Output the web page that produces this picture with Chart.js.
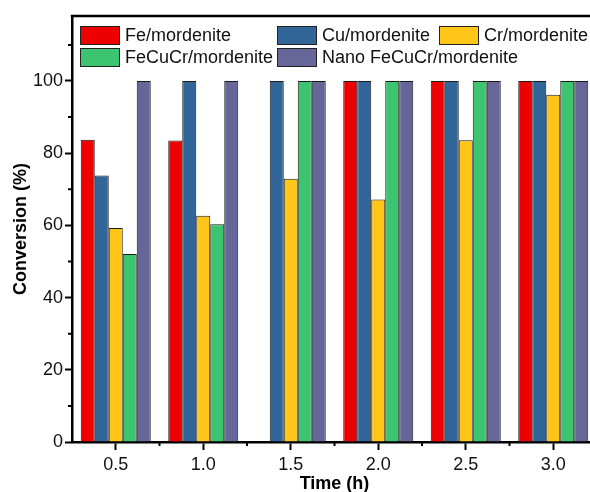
<!DOCTYPE html>
<html>
<head>
<meta charset="utf-8">
<script src="https://cdn.jsdelivr.net/npm/chart.js@4"></script>
<style>
    body { margin: 0; background: #fff; }
    #wrap { width: 590px; height: 492px; overflow: hidden; }
</style>
</head>
<body>
<div id="wrap"><canvas id="convChart" width="600" height="500"></canvas></div>
<script>
        // reaction time (h)
        const times = [0.5, 1.0, 1.5, 2.0, 2.5, 3.0];
        const seriesNames = ["Fe/mordenite", "Cu/mordenite", "Cr/mordenite", "FeCuCr/mordenite", "Nano FeCuCr/mordenite"];
        const seriesColors = ["#ee0000", "#326699", "#ffc519", "#3cc471", "#666699"];

        // conversion (%)
        const feValues = [83.7, 83.5, null, 100, 100, 100];
        const cuValues = [73.8, 100, 100, 100, 100, 100];
        const crValues = [59.3, 62.7, 72.9, 67.2, 83.6, 96.2];
        const feCuCrValues = [52.1, 60.3, 100, 100, 100, 100];
        const nanoValues = [100, 100, 100, 100, 100, 100];

        const yTicks = [0, 20, 40, 60, 80, 100];
        const xMinorTicks = [0.75, 1.25, 1.75, 2.25, 2.75];
        const yMinorTicks = [10, 30, 50, 70, 90, 110];

        const allValues = [feValues, cuValues, crValues, feCuCrValues, nanoValues];
        const font = "'Liberation Sans', Arial, sans-serif";

        // frame on top, minor ticks and the legend inside the plot
        const extrasPlugin = {
            id: 'extras',
            afterDraw(chart) {
                const ctx = chart.ctx;
                const area = chart.chartArea;
                const xs = chart.scales.x;
                const ys = chart.scales.y;
                ctx.save();
                ctx.strokeStyle = '#000';
                ctx.lineWidth = 2.5;
                ctx.beginPath();
                ctx.moveTo(area.left - 1.25, area.top);
                ctx.lineTo(area.right, area.top);
                ctx.lineTo(area.right, area.bottom);
                ctx.stroke();

                ctx.lineWidth = 2;
                ctx.beginPath();
                xMinorTicks.forEach(v => {
                    const px = xs.getPixelForValue(v);
                    ctx.moveTo(px, area.bottom);
                    ctx.lineTo(px, area.bottom + 4);
                });
                yMinorTicks.forEach(v => {
                    const py = ys.getPixelForValue(v);
                    ctx.moveTo(area.left, py);
                    ctx.lineTo(area.left - 4, py);
                });
                ctx.stroke();

                // legend: 3 columns, 2 rows
                const colX = [8, 205, 367];
                const rowY = [10, 32];
                ctx.font = '18px ' + font;
                ctx.textBaseline = 'middle';
                ctx.textAlign = 'left';
                chart.data.datasets.forEach((ds, i) => {
                    const bx = area.left + colX[i % 3];
                    const by = area.top + rowY[Math.floor(i / 3)];
                    ctx.fillStyle = ds.backgroundColor;
                    ctx.fillRect(bx, by, 40, 19);
                    ctx.lineWidth = 1;
                    ctx.strokeStyle = '#222';
                    ctx.strokeRect(bx + 0.5, by + 0.5, 39, 18);
                    ctx.fillStyle = '#111';
                    ctx.fillText(ds.label, bx + 45, by + 10);
                });
                ctx.restore();
            }
        };

        const ctx = document.getElementById('convChart').getContext('2d');
        new Chart(ctx, {
            type: 'bar',
            data: {
                datasets: seriesNames.map((name, i) => ({
                    label: name,
                    data: times.map((t, j) => ({ x: t, y: allValues[i][j] })),
                    backgroundColor: seriesColors[i],
                    borderColor: '#1a1a1a',
                    borderWidth: 1,
                    categoryPercentage: 0.8,
                    barPercentage: 1.0
                }))
            },
            options: {
                responsive: false,
                animation: false,
                devicePixelRatio: 1,
                layout: { padding: { top: 16, right: 3, left: 0, bottom: 0 } },
                plugins: {
                    legend: { display: false },
                    tooltip: { enabled: false }
                },
                scales: {
                    x: {
                        type: 'linear',
                        min: 0.25,
                        max: 3.25,
                        offset: false,
                        afterBuildTicks: s => { s.ticks = times.map(v => ({ value: v })); },
                        afterFit: s => {
                            s.height = 58;
                            s.paddingLeft = 0;
                            s.paddingRight = 0;
                        },
                        grid: { offset: false, drawOnChartArea: false, drawTicks: true, tickLength: 8, tickWidth: 2, color: '#000' },
                        border: { display: true, color: '#000', width: 2.5 },
                        ticks: {
                            padding: 4,
                            color: '#111',
                            font: { family: font, size: 18 },
                            callback: v => v.toFixed(1)
                        },
                        title: {
                            display: true,
                            text: 'Time (h)',
                            color: '#000',
                            font: { family: font, size: 18, weight: 'bold' },
                            padding: { top: 0, bottom: 5.5 }
                        }
                    },
                    y: {
                        min: 0,
                        max: 118,
                        afterBuildTicks: s => { s.ticks = yTicks.map(v => ({ value: v })); },
                        afterFit: s => {
                            s.width = 72;
                            s.paddingTop = 0;
                            s.paddingBottom = 0;
                        },
                        grid: { drawOnChartArea: false, drawTicks: true, tickLength: 7, tickWidth: 2, color: '#000' },
                        border: { display: true, color: '#000', width: 2.5 },
                        ticks: {
                            padding: 2,
                            color: '#111',
                            font: { family: font, size: 18 }
                        },
                        title: {
                            display: true,
                            text: 'Conversion (%)',
                            color: '#000',
                            font: { family: font, size: 18, weight: 'bold' },
                            padding: { top: 10.7, bottom: 0 }
                        }
                    }
                }
            },
            plugins: [extrasPlugin]
        });
</script>
</body>
</html>
